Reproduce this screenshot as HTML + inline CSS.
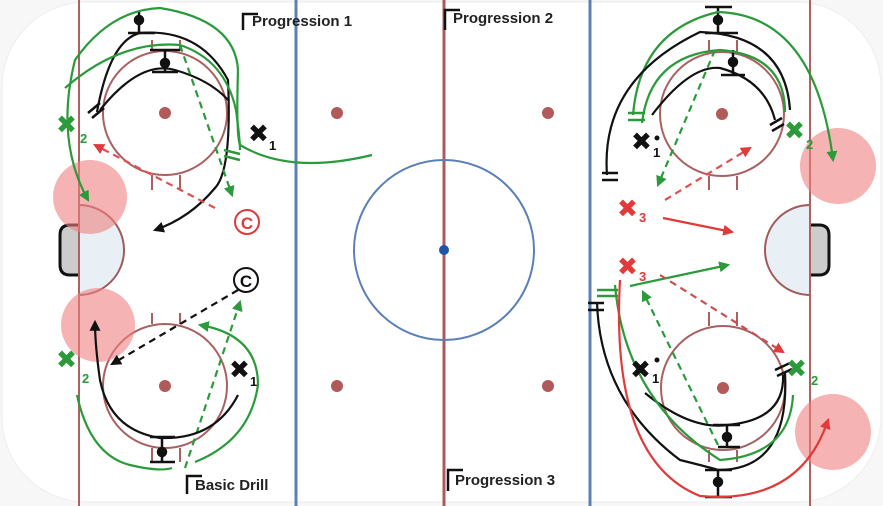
<!DOCTYPE html>
<html><head><meta charset="utf-8"><style>
html,body{margin:0;padding:0;background:#fff;}
svg{display:block}
text{font-family:"Liberation Sans","DejaVu Sans",sans-serif;font-weight:bold}
</style></head><body>
<svg width="883" height="506" viewBox="0 0 883 506" xmlns="http://www.w3.org/2000/svg">
<defs>
<marker id="ag" viewBox="0 0 10 10" refX="8" refY="5" markerWidth="5" markerHeight="5" orient="auto"><path d="M0,0L10,5L0,10z" fill="#2a9a3a"/></marker>
<marker id="ak" viewBox="0 0 10 10" refX="8" refY="5" markerWidth="5" markerHeight="5" orient="auto"><path d="M0,0L10,5L0,10z" fill="#111"/></marker>
<marker id="ar" viewBox="0 0 10 10" refX="8" refY="5" markerWidth="5" markerHeight="5" orient="auto"><path d="M0,0L10,5L0,10z" fill="#e03a3a"/></marker>
</defs>
<rect x="0" y="0" width="883" height="506" fill="#f7f7f7"/>
<rect x="2" y="2" width="879" height="500" rx="85" fill="#fff" stroke="#eee"/>
<path d="M79,205 A45,45 0 0 1 79,295 Z" fill="#e8f0f6" stroke="#a05a5a" stroke-width="2"/>
<path d="M79,225 L70,225 Q60,225 60,235 L60,265 Q60,275 70,275 L79,275" fill="#ccc" stroke="#111" stroke-width="3"/>
<path d="M810,205 A45,45 0 0 0 810,295 Z" fill="#e8f0f6" stroke="#a05a5a" stroke-width="2"/>
<path d="M810,225 L819,225 Q829,225 829,235 L829,265 Q829,275 819,275 L810,275" fill="#ccc" stroke="#111" stroke-width="3"/>
<line x1="79" y1="0" x2="79" y2="506" stroke="#b06060" stroke-width="2"/>
<line x1="810" y1="0" x2="810" y2="506" stroke="#b06060" stroke-width="2"/>
<line x1="296" y1="0" x2="296" y2="506" stroke="#5b80b8" stroke-width="3"/>
<line x1="590" y1="0" x2="590" y2="506" stroke="#5b80b8" stroke-width="3"/>
<line x1="444" y1="0" x2="444" y2="506" stroke="#b05858" stroke-width="3"/>
<circle cx="444" cy="250" r="90" fill="none" stroke="#5b80b8" stroke-width="2"/>
<circle cx="444" cy="250" r="5" fill="#1f55a8"/>
<g fill="#b05a5a"><circle cx="337" cy="113" r="6"/><circle cx="548" cy="113" r="6"/><circle cx="337" cy="386" r="6"/><circle cx="548" cy="386" r="6"/>
<circle cx="165" cy="113" r="6"/><circle cx="165" cy="386" r="6"/><circle cx="722" cy="114" r="6"/><circle cx="723" cy="388" r="6"/></g>
<g fill="none" stroke="#a86060" stroke-width="2">
<circle cx="165" cy="113" r="62"/><circle cx="165" cy="386" r="62"/><circle cx="722" cy="114" r="62"/><circle cx="723" cy="388" r="62"/>
<path d="M152,51V40M180,51V40M152,175V190M180,175V190M152,324V313M180,324V313M152,448V462M180,448V462M709,52V40M737,52V40M709,176V190M737,176V190M709,326V312M737,326V312M709,450V462M737,450V462"/>
</g>
<g fill="#ee8080" opacity="0.6"><circle cx="90" cy="197" r="37"/><circle cx="98" cy="325" r="37"/><circle cx="838" cy="166" r="38"/><circle cx="833" cy="432" r="38"/></g>
<g stroke="#111" stroke-width="2.5" fill="none"><path d="M243,30V14H258"/><path d="M445,30V10H460"/><path d="M448,491V470H463"/><path d="M187,494V476H202"/></g>
<text x="252" y="26" font-size="15" fill="#222">Progression 1</text>
<text x="453" y="23" font-size="15" fill="#222">Progression 2</text>
<text x="455" y="485" font-size="15" fill="#222">Progression 3</text>
<text x="195" y="490" font-size="15" fill="#222">Basic Drill</text>
<g stroke="#111" stroke-width="2.5" fill="#111">
<path d="M139,12V33M128,33H155M165,50V72M152,72H178M150,50H180"/><circle cx="139" cy="20" r="4"/><circle cx="165" cy="63" r="4"/>
<path d="M162,437V462M150,437H175M150,462H175"/><circle cx="162" cy="452" r="4"/>
<path d="M718,7V33M705,7H732M705,33H738M733,50V75M721,75H745"/><circle cx="718" cy="20" r="4"/><circle cx="733" cy="62" r="4"/>
<path d="M727,425V447M713,425H740M718,447H740M718,470V497M705,470H732M705,497H732"/><circle cx="727" cy="437" r="4"/><circle cx="718" cy="482" r="4"/>
</g>
<g fill="none" stroke-width="2.2">
<path d="M97,112 Q110,40 140,33 Q200,28 228,80 Q232,170 215,188 Q190,218 155,230" stroke="#111" marker-end="url(#ak)"/>
<path d="M100,110 Q140,60 175,70 Q210,80 228,100" stroke="#111"/>
<path d="M372,155 Q290,175 240,145 Q236,135 238,70 Q235,20 160,8 Q110,10 75,60 Q55,140 88,200" stroke="#2a9a3a" marker-end="url(#ag)"/>
<path d="M65,88 Q120,40 180,45 Q225,60 236,110 Q240,140 240,150" stroke="#2a9a3a"/>
<path d="M180,45 L232,195" stroke="#2a9a3a" stroke-dasharray="7,5" marker-end="url(#ag)"/>
<path d="M215,208 L95,145" stroke="#e05050" stroke-dasharray="7,5" marker-end="url(#ar)"/>
<path d="M238,290 L112,364" stroke="#111" stroke-dasharray="7,5" marker-end="url(#ak)"/>
<path d="M185,468 L240,302" stroke="#2a9a3a" stroke-dasharray="7,5" marker-end="url(#ag)"/>
<path d="M77,395 Q90,455 130,465 Q160,472 172,468" stroke="#2a9a3a"/>
<path d="M195,462 Q250,440 258,385 Q258,335 200,325" stroke="#2a9a3a" marker-end="url(#ag)"/>
<path d="M238,395 Q215,440 160,438 Q110,430 100,380 Q95,345 95,322" stroke="#111" marker-end="url(#ak)"/>
<path d="M633,115 Q640,30 718,12 Q815,15 833,160" stroke="#2a9a3a" marker-end="url(#ag)"/>
<path d="M642,123 Q650,55 720,50 Q785,55 785,112" stroke="#2a9a3a"/>
<path d="M607,175 Q600,80 700,32 Q785,35 790,110" stroke="#111"/>
<path d="M652,115 Q690,65 720,68 Q765,80 775,120" stroke="#111"/>
<path d="M715,50 L658,185" stroke="#2a9a3a" stroke-dasharray="7,5" marker-end="url(#ag)"/>
<path d="M665,200 L750,148" stroke="#e05050" stroke-dasharray="7,5" marker-end="url(#ar)"/>
<path d="M663,218 L732,232" stroke="#e03a3a" marker-end="url(#ar)"/>
<path d="M630,286 L728,265" stroke="#2a9a3a" marker-end="url(#ag)"/>
<path d="M660,275 L783,352" stroke="#c85050" stroke-dasharray="7,5" marker-end="url(#ar)"/>
<path d="M718,445 L643,292" stroke="#2a9a3a" stroke-dasharray="7,5" marker-end="url(#ag)"/>
<path d="M597,302 Q600,400 680,460 Q720,470 718,470" stroke="#111"/>
<path d="M718,470 Q790,470 785,373" stroke="#111"/>
<path d="M645,393 Q690,430 727,425 Q785,420 783,375" stroke="#111"/>
<path d="M615,285 Q625,400 720,460 Q790,455 793,395" stroke="#2a9a3a"/>
<path d="M620,280 Q610,460 700,496 Q800,505 828,420" stroke="#e03a3a" marker-end="url(#ar)"/>
</g>
<g stroke="#111" stroke-width="2.5"><path d="M88,113L100,103M92,118L104,108M602,173H618M602,180H618M770,125L782,118M772,131L784,124M588,303H604M588,310H604M775,370L790,363M777,376L792,369"/></g>
<g stroke="#2a9a3a" stroke-width="2.5"><path d="M628,113H645M628,120H645M224,150L240,154M224,156L240,160M597,290H618M597,296H618"/></g>
<g font-size="25"><text x="248" y="142" fill="#111">✖</text><text x="229" y="378" fill="#111">✖</text><text x="631" y="150" fill="#111">✖</text><text x="630" y="378" fill="#111">✖</text>
<text x="56" y="133" fill="#2a9a3a">✖</text><text x="56" y="368" fill="#2a9a3a">✖</text><text x="784" y="139" fill="#2a9a3a">✖</text><text x="786" y="377" fill="#2a9a3a">✖</text>
<text x="617" y="217" fill="#e03a3a">✖</text><text x="617" y="275" fill="#e03a3a">✖</text></g>
<g font-size="13"><text x="269" y="150" fill="#111">1</text><text x="250" y="386" fill="#111">1</text><text x="653" y="157" fill="#111">1</text><text x="652" y="383" fill="#111">1</text>
<text x="80" y="143" fill="#2a9a3a">2</text><text x="82" y="383" fill="#2a9a3a">2</text><text x="806" y="149" fill="#2a9a3a">2</text><text x="811" y="385" fill="#2a9a3a">2</text>
<text x="639" y="222" fill="#e03a3a">3</text><text x="639" y="281" fill="#e03a3a">3</text></g>
<circle cx="657" cy="138" r="2.5" fill="#111"/><circle cx="657" cy="360" r="2.5" fill="#111"/>
<circle cx="247" cy="222" r="12" fill="#fff" stroke="#e03a3a" stroke-width="2"/><text x="247" y="229" font-size="17" fill="#e03a3a" text-anchor="middle">C</text>
<circle cx="246" cy="280" r="12" fill="#fff" stroke="#111" stroke-width="2"/><text x="246" y="287" font-size="17" fill="#111" text-anchor="middle">C</text>
</svg>
</body></html>
